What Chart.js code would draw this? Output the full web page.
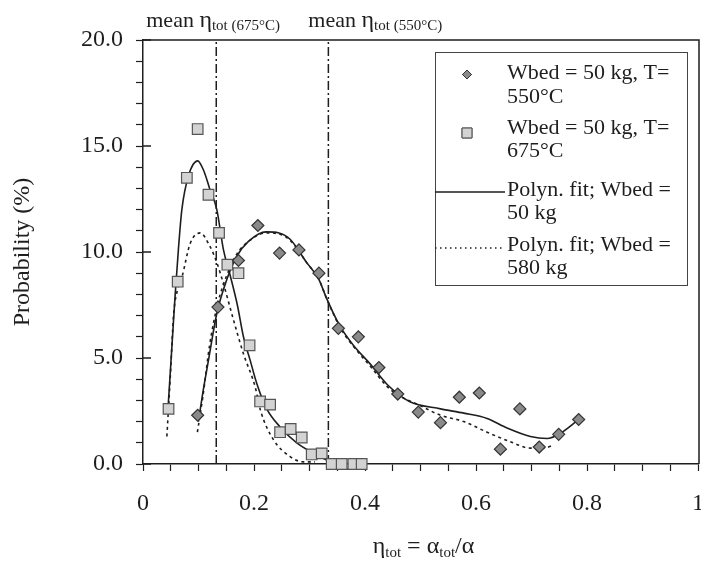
<!DOCTYPE html>
<html>
<head>
<meta charset="utf-8">
<script src="https://cdn.jsdelivr.net/npm/chart.js@4.4.0/dist/chart.umd.min.js"></script>
<style>
  html, body { margin: 0; padding: 0; background: #fff; }
  #wrap { width: 701px; height: 563px; }
</style>
</head>
<body>
<div id="wrap"><canvas id="myChart" width="701" height="563"></canvas></div>
<script>
// measured points, Wbed = 50 kg, T = 550°C (diamonds)
const eta550 = [0.0985, 0.135, 0.172, 0.207, 0.246, 0.281, 0.317, 0.352, 0.388, 0.425,
                0.459, 0.496, 0.536, 0.570, 0.606, 0.644, 0.679, 0.714, 0.749, 0.785];
const prob550 = [2.3, 7.4, 9.6, 11.25, 9.95, 10.1, 9.0, 6.4, 6.0, 4.55,
                 3.3, 2.45, 1.95, 3.15, 3.35, 0.7, 2.6, 0.8, 1.4, 2.1];

// measured points, Wbed = 50 kg, T = 675°C (squares)
const eta675 = [0.046, 0.0625, 0.079, 0.0985, 0.118, 0.137, 0.152, 0.172, 0.192, 0.211,
                0.229, 0.247, 0.266, 0.286, 0.304, 0.322, 0.340, 0.358, 0.379, 0.394];
const prob675 = [2.6, 8.6, 13.5, 15.8, 12.7, 10.9, 9.4, 9.0, 5.6, 2.95,
                 2.8, 1.5, 1.65, 1.25, 0.45, 0.5, 0.0, 0.0, 0.0, 0.0];

// polynomial fits, Wbed = 50 kg
const fit50x675 = [0.045, 0.052, 0.058, 0.064, 0.070, 0.082, 0.0985, 0.110, 0.120, 0.133, 0.145,
                   0.157, 0.170, 0.181, 0.193, 0.205, 0.223, 0.247, 0.277, 0.319, 0.349, 0.373, 0.391];
const fit50y675 = [2.6, 5.5, 8.0, 10.2, 12.0, 13.6, 14.3, 13.8, 13.0, 12.0, 10.1,
                   8.9, 7.5, 6.0, 4.9, 3.8, 2.6, 1.75, 1.0, 0.35, -0.05, -0.25, -0.1];
const fit50x550 = [0.0998, 0.108, 0.118, 0.133, 0.151, 0.169, 0.19, 0.222, 0.245, 0.265, 0.295,
                   0.317, 0.331, 0.355, 0.379, 0.41, 0.44, 0.48, 0.536, 0.578, 0.62, 0.656,
                   0.698, 0.728, 0.752, 0.785];
const fit50y550 = [2.0, 3.4, 4.9, 7.1, 8.7, 9.8, 10.5, 10.95, 10.9, 10.6, 9.5,
                   8.7, 7.8, 6.5, 5.6, 4.7, 3.75, 2.95, 2.6, 2.4, 2.15, 1.7,
                   1.3, 1.2, 1.45, 2.1];

// polynomial fits, Wbed = 580 kg
const fit580x675 = [0.043, 0.050, 0.055, 0.062, 0.070, 0.085, 0.103, 0.120, 0.133, 0.145,
                    0.163, 0.181, 0.202, 0.212, 0.235, 0.265, 0.289, 0.31];
const fit580y675 = [1.3, 4.5, 7.0, 8.2, 8.8, 10.4, 10.9, 10.3, 9.5, 8.5,
                    6.8, 5.2, 3.65, 2.5, 1.15, 0.35, 0.1, 0.1];
const fit580x550 = [0.098, 0.108, 0.12, 0.135, 0.151, 0.169, 0.19, 0.222, 0.245, 0.265, 0.295,
                    0.317, 0.331, 0.355, 0.379, 0.41, 0.44, 0.46, 0.496, 0.536, 0.578, 0.62,
                    0.662, 0.698, 0.722, 0.74];
const fit580y550 = [1.5, 3.2, 5.6, 7.6, 8.9, 9.9, 10.5, 10.9, 10.85, 10.55, 9.5,
                    8.7, 7.8, 6.45, 5.55, 4.6, 3.65, 3.25, 2.8, 2.3, 2.0, 1.5,
                    1.05, 0.75, 0.75, 0.9];

// mean eta_tot per temperature
const meanEta = [0.132, 0.334];
const meanTemp = ['675°C', '550°C'];

const legendText = [
  ['Wbed = 50 kg, T=', '550°C'],
  ['Wbed = 50 kg, T=', '675°C'],
  ['Polyn. fit; Wbed =', '50 kg'],
  ['Polyn. fit; Wbed =', '580 kg']
];

const SERIF = "'Liberation Serif', 'Times New Roman', 'DejaVu Serif', serif";
const INK = '#1e1e1e';
const DIAMOND_FILL = '#8a8a8a';
const SQUARE_FILL = '#d3d3d3';
const FIT_DASH = [3, 3.5];
const MEAN_DASH = [9, 3, 2, 3];

const pts = (xs, ys) => xs.map((x, i) => ({ x: x, y: ys[i] }));

function fitLine(xs, ys, dash) {
  return {
    data: pts(xs, ys),
    showLine: true,
    borderColor: INK,
    borderWidth: 1.6,
    borderDash: dash || [],
    pointRadius: 0,
    cubicInterpolationMode: 'monotone',
    clip: { left: 2, top: 2, right: 2, bottom: 8 },
    order: 2
  };
}

function meanLine(v) {
  return {
    data: [{ x: v, y: 0 }, { x: v, y: 20 }],
    showLine: true,
    borderColor: INK,
    borderWidth: 1.5,
    borderDash: MEAN_DASH,
    pointRadius: 0,
    order: 3
  };
}

// draws a run of text pieces, some of them subscripts
function richText(ctx, parts, x, y, measureOnly) {
  let cx = x;
  parts.forEach(p => {
    ctx.font = p.size + 'px ' + SERIF;
    if (!measureOnly) ctx.fillText(p.t, cx, y + (p.dy || 0));
    cx += ctx.measureText(p.t).width;
  });
  return cx - x;
}

const extras = {
  id: 'extras',
  afterDraw(chart) {
    const ctx = chart.ctx;
    const a = chart.chartArea;
    const xs = chart.scales.x, ys = chart.scales.y;
    ctx.save();
    ctx.strokeStyle = INK;
    ctx.fillStyle = INK;

    // top and right frame
    ctx.lineWidth = 1.5;
    ctx.beginPath();
    ctx.moveTo(a.left, a.top);
    ctx.lineTo(a.right + 1, a.top);
    ctx.lineTo(a.right + 1, a.bottom);
    ctx.stroke();

    // major y ticks cross the axis
    [0, 5, 10, 15, 20].forEach(v => {
      const y = ys.getPixelForValue(v);
      ctx.beginPath();
      ctx.moveTo(a.left, y);
      ctx.lineTo(a.left + 8, y);
      ctx.stroke();
    });

    // mean labels above the frame
    ctx.textBaseline = 'alphabetic';
    const shift = [-70, -20];
    meanEta.forEach((v, i) => {
      const x = xs.getPixelForValue(v) + shift[i];
      richText(ctx, [
        { t: 'mean ', size: 22 },
        { t: 'η', size: 24 },
        { t: 'tot (' + meanTemp[i] + ')', size: 15, dy: 3 }
      ], x, a.top - 13);
    });

    // x axis title
    const title = [
      { t: 'η', size: 24 }, { t: 'tot', size: 15, dy: 4 },
      { t: ' = α', size: 24 }, { t: 'tot', size: 15, dy: 4 },
      { t: '/α', size: 24 }
    ];
    const tw = richText(ctx, title, 0, 0, true);
    richText(ctx, title, (a.left + a.right) / 2 - tw / 2 + 3, 553);

    // legend box
    const bx = a.right - 263, by = a.top + 12, bw = 252, bh = 233;
    ctx.lineWidth = 1;
    ctx.strokeStyle = '#444';
    ctx.strokeRect(bx + 0.5, by + 0.5, bw, bh);
    const rows = [21.5, 76, 138, 193];
    ctx.font = '22px ' + SERIF;
    ctx.textBaseline = 'middle';
    ctx.fillStyle = INK;
    rows.forEach((ry, i) => {
      const y = by + ry;
      ctx.fillText(legendText[i][0], bx + 72, y);
      ctx.fillText(legendText[i][1], bx + 72, y + 23.5);
    });
    Chart.helpers.drawPoint(ctx, {
      pointStyle: 'rectRot', radius: 4.5, borderWidth: 1.2, rotation: 0
    }, bx + 32, by + rows[0] + 1);
    ctx.fillStyle = DIAMOND_FILL; ctx.fill();
    ctx.strokeStyle = '#333'; ctx.stroke();
    ctx.beginPath();
    Chart.helpers.drawPoint(ctx, {
      pointStyle: 'rect', radius: 7, borderWidth: 1.2, rotation: 0
    }, bx + 32, by + rows[1] + 5);
    ctx.fillStyle = SQUARE_FILL; ctx.fill();
    ctx.strokeStyle = '#555'; ctx.stroke();

    ctx.strokeStyle = INK;
    ctx.lineWidth = 1.6;
    ctx.beginPath();
    ctx.moveTo(bx, by + rows[2] + 2);
    ctx.lineTo(bx + 70, by + rows[2] + 2);
    ctx.stroke();
    ctx.setLineDash([1.5, 3.5]);
    ctx.beginPath();
    ctx.moveTo(bx, by + rows[3] + 3);
    ctx.lineTo(bx + 70, by + rows[3] + 3);
    ctx.stroke();
    ctx.restore();
  }
};

const ctx = document.getElementById('myChart').getContext('2d');
const myChart = new Chart(ctx, {
  type: 'scatter',
  data: {
    datasets: [
      {
        data: pts(eta550, prob550),
        pointStyle: 'rectRot',
        pointRadius: 6,
        pointBackgroundColor: DIAMOND_FILL,
        pointBorderColor: '#333',
        pointBorderWidth: 1.2,
        clip: false,
        order: 1
      },
      {
        data: pts(eta675, prob675),
        pointStyle: 'rect',
        pointRadius: 7.5,
        pointBackgroundColor: SQUARE_FILL,
        pointBorderColor: '#555',
        pointBorderWidth: 1.2,
        clip: false,
        order: 1
      },
      fitLine(fit50x675, fit50y675),
      fitLine(fit50x550, fit50y550),
      fitLine(fit580x675, fit580y675, FIT_DASH),
      fitLine(fit580x550, fit580y550, FIT_DASH),
      meanLine(meanEta[0]),
      meanLine(meanEta[1])
    ]
  },
  options: {
    responsive: false,
    animation: false,
    devicePixelRatio: 1,
    layout: { autoPadding: false, padding: { top: 40, right: 3, left: 0, bottom: 0 } },
    plugins: {
      legend: { display: false },
      tooltip: { enabled: false }
    },
    scales: {
      x: {
        type: 'linear',
        min: 0,
        max: 1,
        afterFit(scale) {
          scale.height = 99;
          scale.paddingLeft = 0;
          scale.paddingRight = 0;
        },
        border: { color: INK, width: 1.5 },
        grid: { drawOnChartArea: false, tickLength: 7, color: INK, tickWidth: 1.2 },
        ticks: {
          stepSize: 0.05,
          autoSkip: false,
          maxRotation: 0,
          padding: 18,
          color: INK,
          font: { family: SERIF, size: 24 },
          callback(v) {
            const k = Math.round(v * 100);
            if (k % 20 !== 0) return '';
            if (k === 0) return '0';
            if (k === 100) return '1';
            return (k / 100).toFixed(1);
          }
        }
      },
      y: {
        min: 0,
        max: 20,
        afterFit(scale) {
          scale.width = 143;
          scale.paddingTop = 0;
          scale.paddingBottom = 0;
        },
        border: { color: INK, width: 1.5 },
        grid: { drawOnChartArea: false, tickLength: 7, color: INK, tickWidth: 1.2 },
        title: {
          display: true,
          text: 'Probability (%)',
          color: INK,
          font: { family: SERIF, size: 24 },
          padding: { top: 8, bottom: 0 }
        },
        ticks: {
          stepSize: 1,
          autoSkip: false,
          padding: 13,
          color: INK,
          font: { family: SERIF, size: 24 },
          callback(v) {
            return v % 5 === 0 ? v.toFixed(1) : '';
          }
        }
      }
    }
  },
  plugins: [extras]
});
</script>
</body>
</html>
